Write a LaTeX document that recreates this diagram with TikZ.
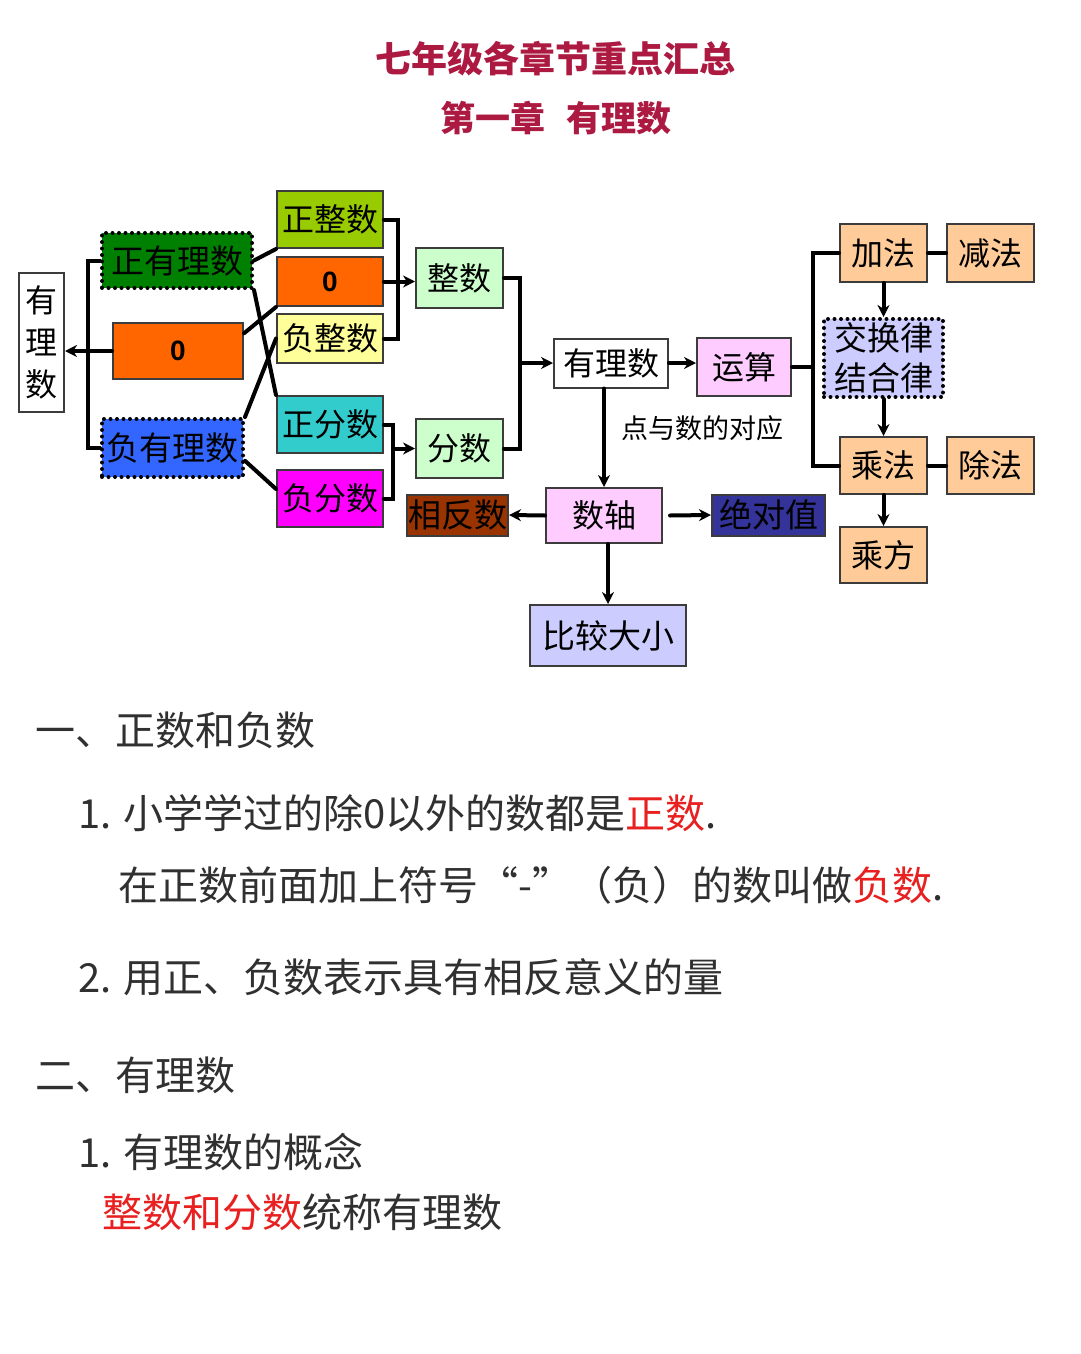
\documentclass[tikz,border=0pt]{standalone}
\usepackage{fontspec}
\setmainfont{Noto Sans CJK SC}
\newfontfamily\arialfont{Liberation Sans}
\usetikzlibrary{arrows.meta}

\definecolor{titlered}{RGB}{172,26,66}
\definecolor{hlred}{RGB}{232,32,32}
\definecolor{bodygray}{RGB}{48,48,48}
\definecolor{boxgray}{RGB}{60,60,60}
\definecolor{cgreen}{RGB}{0,128,0}
\definecolor{corange}{RGB}{255,102,0}
\definecolor{cblue}{RGB}{51,102,255}
\definecolor{cylgreen}{RGB}{153,204,0}
\definecolor{cyellow}{RGB}{255,255,153}
\definecolor{cteal}{RGB}{51,204,204}
\definecolor{cmagenta}{RGB}{255,0,255}
\definecolor{cmint}{RGB}{204,255,204}
\definecolor{cpink}{RGB}{255,204,255}
\definecolor{cpeach}{RGB}{255,204,153}
\definecolor{clav}{RGB}{204,204,255}
\definecolor{cbrown}{RGB}{153,51,0}
\definecolor{cnavy}{RGB}{51,51,153}

\tikzset{
  box/.style={draw=boxgray, line width=2pt, inner sep=0pt, font=\fontsize{32}{32}\selectfont},
  dotbox/.style={box, draw=black, line width=4pt, dash pattern=on 0pt off 6.5pt},
  zerotext/.style={font=\arialfont\bfseries\fontsize{28}{28}\selectfont},
  link/.style={line width=4pt},
  arr/.style={link, -{Stealth[length=12pt,width=12pt]}},
  body/.style={anchor=west, inner sep=0pt, text=bodygray, font=\fontsize{40}{40}\selectfont},
}

\begin{document}
\begin{tikzpicture}[x=1pt,y=-1pt,line cap=round]
    \fill[white] (0,0) rectangle (1080,1354);
    \useasboundingbox (0,0) rectangle (1080,1354);

    \node[text=titlered, font=\bfseries\fontsize{36}{36}\selectfont] (title) at (555,59) {七年级各章节重点汇总};
    \node[text=titlered, font=\bfseries\fontsize{35}{35}\selectfont] (chapter) at (556,118) {第一章\hspace{0.6em}有理数};

    % left part
    \node[box, fill=white, minimum width=45pt, minimum height=139pt, align=center, font=\fontsize{32}{42}\selectfont] (rat) at (41.5,342.5) {有\\理\\数};
    \node[dotbox, fill=cgreen, minimum width=150pt, minimum height=55pt, font=\fontsize{33}{33}\selectfont] (posrat) at (177,260.5) {正有理数};
    \node[box, zerotext, fill=corange, minimum width=130pt, minimum height=56pt] (zeroA) at (178,351) {0};
    \node[dotbox, fill=cblue, minimum width=141pt, minimum height=58pt, font=\fontsize{33}{33}\selectfont] (negrat) at (172.5,448) {负有理数};

    \foreach \nm/\y/\h/\col/\txt in {posint/219.5/57/cylgreen/正整数, negint/338.5/49/cyellow/负整数,
                                     posfrac/424.5/57/cteal/正分数, negfrac/498.5/57/cmagenta/负分数}{
        \node[box, fill=\col, minimum width=106pt, minimum height=\h pt] (\nm) at (330,\y) {\txt};
    }
    \node[box, zerotext, fill=corange, minimum width=106pt, minimum height=49pt] (zeroB) at (330,281.5) {0};

    \node[box, fill=cmint, minimum width=87pt, minimum height=60pt] (zint) at (459.5,278) {整数};
    \node[box, fill=cmint, minimum width=87pt, minimum height=59pt] (frac) at (459.5,448.5) {分数};

    % middle part
    \node[box, fill=white, minimum width=114pt, minimum height=49pt] (rat2) at (611,363) {有理数};
    \node[box, fill=cpink, minimum width=94pt, minimum height=58pt] (ops) at (744,367) {运算};
    \node[font=\fontsize{27}{27}\selectfont] (corr) at (702,428) {点与数的对应};
    \node[box, fill=cpink, minimum width=116pt, minimum height=55pt] (axis) at (604,515.5) {数轴};
    \node[box, fill=cbrown, minimum width=101pt, minimum height=41pt, font=\fontsize{33}{33}\selectfont] (opp) at (457.5,515) {相反数};
    \node[box, fill=cnavy, minimum width=113pt, minimum height=41pt, font=\fontsize{33}{33}\selectfont] (abs) at (768.5,515) {绝对值};
    \node[box, fill=clav, minimum width=156pt, minimum height=61pt, font=\fontsize{33}{33}\selectfont] (cmp) at (608,635.5) {比较大小};

    % right part
    \node[box, fill=cpeach, minimum width=87pt, minimum height=58pt] (add) at (883.5,253) {加法};
    \node[box, fill=cpeach, minimum width=87pt, minimum height=58pt] (sub) at (990.5,253) {减法};
    \node[dotbox, fill=clav, minimum width=119pt, minimum height=78pt, align=center, font=\fontsize{33}{40}\selectfont] (laws) at (883.5,358) {交换律\\结合律};
    \node[box, fill=cpeach, minimum width=87pt, minimum height=57pt] (mul) at (883.5,465.5) {乘法};
    \node[box, fill=cpeach, minimum width=87pt, minimum height=57pt] (div) at (990.5,465.5) {除法};
    \node[box, fill=cpeach, minimum width=87pt, minimum height=56pt] (pow) at (883.5,555) {乘方};

    \coordinate (bl) at (88,0);
    \coordinate (bi) at (398,0);
    \coordinate (bf) at (393,0);
    \coordinate (bn) at (520,0);
    \coordinate (bo) at (813,0);

    \draw[link] (posrat.west) -- (posrat.west -| bl) -- (negrat.west -| bl) -- (negrat.west);
    \draw[arr] (zeroA.west) -- (zeroA.west -| rat.east);

    \draw[link] (posrat.east) -- (posint.south west);
    \draw[link] (posrat.south east) -- (posfrac.north west);
    \draw[link] (zeroA.15) -- (zeroB.south west);
    \draw[link] (negrat.north east) -- (negint.west);
    \draw[link] (negrat.-10) -- (negfrac.170);

    \draw[link] (posint.east) -- (posint.east -| bi) -- (negint.east -| bi) -- (negint.east);
    \draw[arr] (zeroB.east) -- (zeroB.east -| zint.west);
    \draw[link] (posfrac.east) -- (posfrac.east -| bf) -- (negfrac.east -| bf) -- (negfrac.east);
    \draw[arr] (bf |- frac.west) -- (frac.west);
    \draw[link] (zint.east) -- (zint.east -| bn) -- (frac.east -| bn) -- (frac.east);
    \draw[arr] (bn |- rat2.west) -- (rat2.west);

    \draw[arr] (rat2.east) -- (rat2.east -| ops.west);
    \draw[link] (ops.east) -- (ops.east -| bo);
    \draw[link] (add.west) -- (add.west -| bo) -- (mul.west -| bo) -- (mul.west);
    \draw[link] (add.east) -- (sub.west);
    \draw[link] (mul.east) -- (div.west);
    \draw[arr] (add.south) -- (laws.north);
    \draw[arr] (laws.south) -- (mul.north);
    \draw[arr] (mul.south) -- (pow.north);

    \draw[arr] (rat2.south -| axis.north) -- (axis.north);
    \draw[arr] (axis.west) -- (opp.east);
    \draw[arr] ([xshift=7pt]axis.east) -- (abs.west);
    \draw[arr] (cmp.north |- axis.south) -- (cmp.north);

    % text below
    \node[body] (s1) at (35,730) {一、正数和负数};
    \node[body] (p1) at (78,813) {1. 小学学过的除0以外的数都是\textcolor{hlred}{正数}.};
    \node[body] (p1b) at (118,885) {在正数前面加上符号“-”（负）的数叫做\textcolor{hlred}{负数}.};
    \node[body] (p2) at (78,977) {2. 用正、负数表示具有相反意义的量};
    \node[body] (s2) at (35,1075) {二、有理数};
    \node[body] (p3) at (78,1152) {1. 有理数的概念};
    \node[body] (p3b) at (102,1212) {\textcolor{hlred}{整数和分数}统称有理数};
\end{tikzpicture}
\end{document}
